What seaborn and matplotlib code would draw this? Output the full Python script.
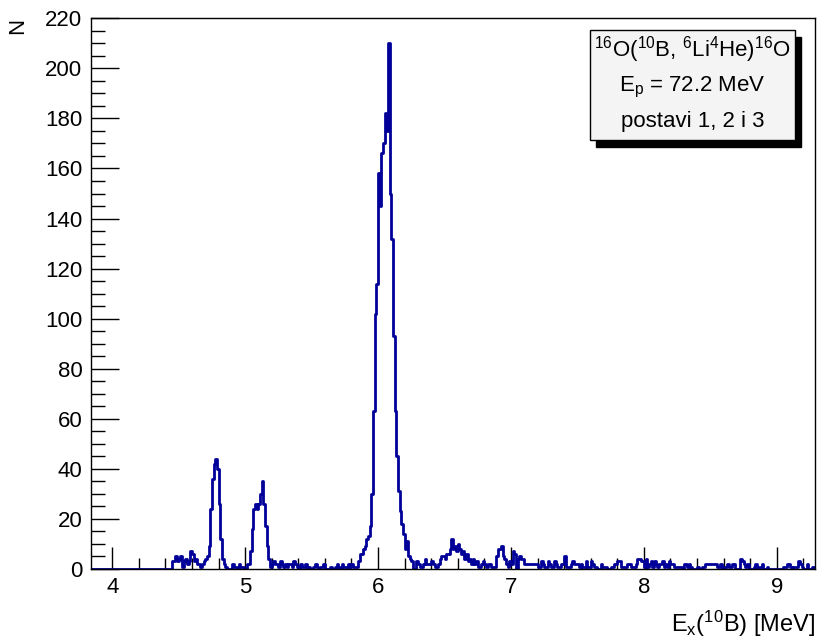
import numpy as np
import pandas as pd
import matplotlib
matplotlib.use("Agg")
import matplotlib.pyplot as plt
from matplotlib.patches import Rectangle
from matplotlib.ticker import MultipleLocator
import seaborn as sns

# ---------------- data (counts per 0.0125 MeV bin) ----------------
first_edge = 3.8375          # MeV, low edge of first bin
bin_width = 0.0125           # MeV
n_empty_start = 49           # empty bins 3.8375 - 4.45 MeV

# 4.45 - 5.3375 MeV : 4.78 and 5.15 MeV peaks
counts_low = [3, 3, 5, 3, 4, 5, 1, 3, 4, 2, 3, 7, 6, 3, 4, 2, 2, 1, 2, 3,
              4, 5, 9, 24, 36, 42, 44, 40, 26, 12, 4, 2, 1, 0, 0, 0, 2, 1, 1, 0,
              2, 1, 1, 0, 0, 2, 2, 7, 16, 24, 26, 24, 26, 30, 35, 26, 17, 9, 4, 1,
              2, 3, 2, 2, 1, 3, 2, 1, 2, 1, 2]
# 5.3375 - 5.8375 MeV
counts_gap = [2, 1, 3, 2, 1, 0, 2, 1, 1, 2, 0, 1, 0, 0, 1, 2, 1, 0, 1, 1,
              2, 0, 0, 0, 1, 0, 0, 1, 2, 1, 0, 2, 1, 1, 0, 2, 1, 2, 1, 1]
# 5.8375 - 6.2625 MeV : main 6.03 MeV peak
counts_main = [1, 3, 6, 6, 8, 9, 12, 13, 17, 30, 63, 102, 114, 158, 145, 166, 170,
               182, 175, 210, 150, 132, 93, 63, 45, 31, 23, 18, 14, 8, 11, 5, 4, 3]
# 6.2625 - 7.825 MeV
counts_mid = [0, 0, 3, 2, 1, 1, 2, 4, 2, 2, 2, 3, 2, 1, 1, 2, 4, 5, 5, 4,
              6, 6, 8, 12, 8, 9, 7, 10, 8, 6, 7, 4, 6, 3, 4, 2, 4, 2, 3, 1,
              1, 2, 3, 2, 1, 2, 2, 1, 1, 1, 5, 8, 8, 9, 5, 4, 2, 1, 3, 2,
              7, 6, 0, 4, 5, 4, 4, 2, 2, 2, 2, 2, 2, 2, 2, 1, 1, 3, 2, 1,
              1, 3, 2, 1, 1, 3, 2, 1, 1, 2, 2, 5, 1, 1, 1, 2, 3, 2, 2, 2,
              1, 2, 1, 1, 3, 1, 1, 3, 2, 1, 1, 0, 0, 2, 1, 1, 1, 0, 0, 1,
              1, 2, 2, 3, 3]
# 7.825 - 9.2875 MeV
counts_high = [1, 1, 1, 1, 2, 2, 1, 1, 1, 2, 4, 4, 3, 3, 1, 4, 1, 2, 3, 1,
               3, 2, 1, 2, 2, 3, 1, 2, 1, 3, 2, 2, 1, 1, 1, 1, 1, 0, 2, 2,
               1, 2, 1, 0, 0, 0, 1, 0, 0, 1, 1, 2, 2, 2, 2, 2, 2, 2, 1, 1,
               2, 0, 1, 1, 2, 1, 1, 2, 2, 0, 0, 0, 4, 3, 2, 1, 2, 0, 0, 0,
               1, 2, 0, 1, 1, 2, 0, 0, 1, 0, 0, 0, 0, 0, 0, 0, 0, 0, 1, 1,
               2, 2, 1, 0, 1, 1, 1, 3, 2, 1, 0, 0, 2, 0, 0, 1, 1]

x_ticks = [4, 5, 6, 7, 8, 9]
y_ticks = [0, 20, 40, 60, 80, 100, 120, 140, 160, 180, 200, 220]
x_title = r"E$_{\mathrm{x}}$($^{10}$B) [MeV]"
y_title = "N"
legend_lines = [r"$^{16}$O($^{10}$B, $^{6}$Li$^{4}$He)$^{16}$O",
                r"E$_{\mathrm{p}}$ = 72.2 MeV",
                "postavi 1, 2 i 3"]

# ---------------- build histogram table ----------------
counts = np.array([0] * n_empty_start + counts_low + counts_gap + counts_main
                  + counts_mid + counts_high, dtype=float)
edges = first_edge + bin_width * np.arange(len(counts) + 1)
centers = 0.5 * (edges[:-1] + edges[1:])
df = pd.DataFrame({"Ex": centers, "N": counts})

# ---------------- style ----------------
sns.set_theme(style="white")
plt.rcParams["font.family"] = ["Liberation Sans", "DejaVu Sans"]
plt.rcParams["mathtext.fontset"] = "custom"
plt.rcParams["mathtext.rm"] = "Liberation Sans"
plt.rcParams["mathtext.it"] = "Liberation Sans:italic"
plt.rcParams["mathtext.bf"] = "Liberation Sans:bold"
plt.rcParams["text.color"] = "black"

fs = 16
fig = plt.figure(figsize=(8.19, 6.42), dpi=100)
fig.patch.set_facecolor("white")
ax = fig.add_axes([0.1107, 0.1137, 0.8844, 0.8578])

sns.histplot(data=df, x="Ex", weights="N", bins=edges.tolist(), element="step",
             fill=False, color="#000099", linewidth=2.0, ax=ax)

ax.set_xlim(edges[0], edges[-1])
ax.set_ylim(0, 220)
ax.set_xticks(x_ticks)
ax.set_yticks(y_ticks)
ax.xaxis.set_minor_locator(MultipleLocator(0.2))
ax.yaxis.set_minor_locator(MultipleLocator(5))
ax.set_xlabel("")
ax.set_ylabel("")
ax.tick_params(axis="both", which="both", direction="in", color="black",
               labelcolor="black", labelsize=fs, top=False, right=False,
               bottom=True, left=True, width=1.0)
ax.tick_params(axis="x", which="major", length=16, pad=6)
ax.tick_params(axis="x", which="minor", length=8)
ax.tick_params(axis="y", which="major", length=20, pad=6)
ax.tick_params(axis="y", which="minor", length=10)
for sp in ax.spines.values():
    sp.set_color("black")
    sp.set_linewidth(1.0)
    sp.set_visible(True)
ax.set_facecolor("white")

# axis titles (ROOT style)
fig.text(18 / 819, 1 - 26 / 642, y_title, rotation=90, ha="center",
         va="center", fontsize=fs, color="black")
fig.text(815 / 819, 1 - 632 / 642, x_title, ha="right", va="baseline",
         fontsize=fs + 1, color="black")

# pave text with shadow
bx0, bw = 590 / 819, 205 / 819
by0, bh = 1 - 140 / 642, 110 / 642
fig.patches.append(Rectangle((bx0 + 6 / 819, by0 - 7 / 642), bw, bh,
                             transform=fig.transFigure, facecolor="black",
                             edgecolor="black", zorder=5))
fig.patches.append(Rectangle((bx0, by0), bw, bh, transform=fig.transFigure,
                             facecolor="#f4f4f4", edgecolor="black",
                             linewidth=1.0, zorder=6))
line_y = [1 - 50 / 642, 1 - 87 / 642, 1 - 122 / 642]
for txt, yy in zip(legend_lines, line_y):
    fig.text(bx0 + bw / 2, yy, txt, ha="center", va="center", fontsize=fs,
             color="black", zorder=7)

fig.savefig("out.png", dpi=100, facecolor="white")
